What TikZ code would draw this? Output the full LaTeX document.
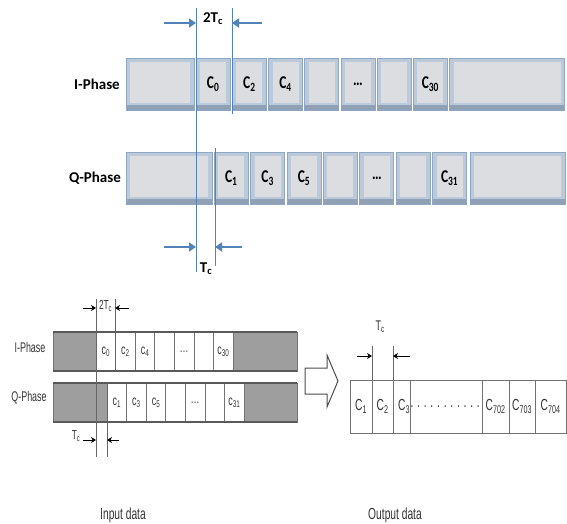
\documentclass[tikz,border=0pt]{standalone}
\usepackage{fontspec}
\setmainfont{Carlito}
\newfontfamily\condfont{Liberation Sans}
\usetikzlibrary{shapes,arrows.meta,positioning,calc}
\usepackage{xcolor}
\definecolor{btnface}{HTML}{DCDDE0}
\definecolor{btnbevel}{HTML}{BACADB}
\definecolor{btnline}{HTML}{8FA7C0}
\definecolor{btndark}{HTML}{90A1B5}
\definecolor{tickblue}{HTML}{5283B8}
\newcommand{\cond}[1]{\scalebox{0.64}[1]{#1}}

\begin{document}
\begin{tikzpicture}[x=1pt,y=-1pt,
btn/.style={
    draw=btnline,
    line width=0.7pt,
    fill=btnbevel,
    inner sep=0pt,
    minimum height=52pt,
    font=\bfseries\fontsize{18}{18}\selectfont,
    path picture={
      \fill[btndark] (path picture bounding box.south west) rectangle ([yshift=5pt]path picture bounding box.south east);
      \fill[btnface] ([shift={(4pt,-4pt)}]path picture bounding box.north west) rectangle ([shift={(-4pt,7pt)}]path picture bounding box.south east);
    }
},
cell/.style={draw=black!55, line width=0.5pt, fill=white, inner sep=0pt,
    minimum height=39pt, font=\condfont\fontsize{14}{14}\selectfont, text=black!80},
dark/.style={cell, fill=black!38},
outcell/.style={cell, minimum height=53pt, font=\condfont\fontsize{16}{16}\selectfont},
rim/.style={draw=black!65, line width=2.4pt},
tline/.style={draw=tickblue, line width=0.9pt},
tarrow/.style={draw=tickblue, line width=1.8pt, -{Triangle[length=7pt,width=9pt]}},
sline/.style={draw=black!60, line width=0.6pt},
sarrow/.style={draw=black, line width=0.9pt, -{Stealth[length=5pt,width=6pt]}},
head/.style={font=\bfseries\fontsize{15}{15}\selectfont},
lab/.style={font=\condfont\fontsize{14}{14}\selectfont, text=black!80}
]
\useasboundingbox (0,0) rectangle (567,524);

% ---- upper picture ----
\node[head] (iname) at (97,84) {I-Phase};
\node[head] (qname) at (95,178) {Q-Phase};

\node[btn, minimum width=68pt] (ihead) at (160,84) {};
\foreach \lab [count=\k from 0] in {C\textsubscript{0},C\textsubscript{2},C\textsubscript{4},{},{\ldots},{},C\textsubscript{30}}
  \node[btn, minimum width=34pt] (ic\k) at ({213.1+36.2*\k},84) {\scalebox{0.75}[1]{\lab}};
\node[btn, minimum width=115pt] (itail) at (507,84) {};

\node[btn, minimum width=86pt] (qhead) at (169,178) {};
\foreach \lab [count=\k from 0] in {C\textsubscript{1},C\textsubscript{3},C\textsubscript{5},{},{\ldots},{},C\textsubscript{31}}
  \node[btn, minimum width=34pt] (qc\k) at ({231.2+36.4*\k},178) {\scalebox{0.75}[1]{\lab}};
\node[btn, minimum width=95pt] (qtail) at (517.5,178) {};

% timing marks
\coordinate (m1t) at (196,8);   \coordinate (m1b) at (196,272);
\coordinate (m2t) at (232,8);   \coordinate (m2b) at (232,114);
\coordinate (m3t) at (215,148); \coordinate (m3b) at (215,266);
\draw[tline] (m1t) -- (m1b);
\draw[tline] (m2t) -- (m2b);
\draw[tline] (m3t) -- (m3b);

\coordinate (a1) at (164,23);
\coordinate (a2) at (262,23);
\draw[tarrow] (a1) -- (a1 -| m1t);
\draw[tarrow] (a2) -- (a2 -| m2t);
\node[head] (twotc) at (213,19) {2T\textsubscript{c}};

\coordinate (a3) at (164,247);
\coordinate (a4) at (242,247);
\draw[tarrow] (a3) -- (a3 -| m1t);
\draw[tarrow] (a4) -- (a4 -| m3t);
\node[head] (tc) at (206,269) {T\textsubscript{c}};

% ---- lower left: input data ----
\node[lab] (iname2) at (30,347) {\cond{I-Phase}};
\node[lab] (qname2) at (29,398) {\cond{Q-Phase}};

\node[dark, minimum width=43pt] (ileft) at (74.5,351.5) {};
\foreach \lab [count=\k from 0] in {c\textsubscript{0},c\textsubscript{2},c\textsubscript{4},{},{\ldots},{},c\textsubscript{30}}
  \node[cell, minimum width=19.57pt] (ib\k) at ({105.8+19.57*\k},351.5) {\cond{\lab}};
\node[dark, minimum width=64pt] (iright) at (265,351.5) {};
\draw[rim] (ileft.north west) -- (iright.north east);
\draw[rim] (ileft.south west) -- (iright.south east);

\node[dark, minimum width=54pt] (qleft) at (80,402.5) {};
\foreach \lab [count=\k from 0] in {c\textsubscript{1},c\textsubscript{3},c\textsubscript{5},{},{\ldots},{},c\textsubscript{31}}
  \node[cell, minimum width=19.57pt] (qb\k) at ({116.8+19.57*\k},402.5) {\cond{\lab}};
\node[dark, minimum width=53pt] (qright) at (270.5,402.5) {};
\draw[rim] (qleft.north west) -- (qright.north east);
\draw[rim] (qleft.south west) -- (qright.south east);

\coordinate (n1t) at (96,299);  \coordinate (n1b) at (96,457);
\coordinate (n2t) at (115,299); \coordinate (n2b) at (115,371);
\coordinate (n3t) at (107,383); \coordinate (n3b) at (107,457);
\draw[sline] (n1t) -- (n1b);
\draw[sline] (n2t) -- (n2b);
\draw[sline] (n3t) -- (n3b);

\coordinate (b1) at (83,308);
\coordinate (b2) at (129,308);
\draw[sarrow] (b1) -- (b1 -| n1t);
\draw[sarrow] (b2) -- (b2 -| n2t);
\node[lab, font=\condfont\fontsize{13}{13}\selectfont] (twotc2) at (105.5,306) {\cond{2T\textsubscript{c}}};

\coordinate (b3) at (83,440);
\coordinate (b4) at (119,440);
\draw[sarrow] (b3) -- (b3 -| n1t);
\draw[sarrow] (b4) -- (b4 -| n3t);
\node[lab, font=\condfont\fontsize{13}{13}\selectfont] (tc2) at (76,436) {\cond{T\textsubscript{c}}};

% ---- arrow between (hollow) ----
\draw[draw=black!70, line width=1pt, fill=white, line join=miter]
  (305,368) -- (327,368) -- (327,355) -- (338,381) -- (327,407) -- (327,394) -- (305,394) -- cycle;

% ---- lower right: output data ----
\foreach \xa/\xb/\lab [count=\k] in {350/372/C\textsubscript{1},372/393/C\textsubscript{2},393/415/C\textsubscript{3},415/482/{. . . . . . . . . . . .},482/509/C\textsubscript{702},509/535/C\textsubscript{703},535/566/C\textsubscript{704}}
  \node[outcell, minimum width={\xb-\xa}] (oc\k) at ({(\xa+\xb)/2},406.5) {\cond{\lab}};

\coordinate (o1t) at (372,346); \coordinate (o1b) at (372,380);
\coordinate (o2t) at (393,346); \coordinate (o2b) at (393,380);
\draw[sline] (o1t) -- (o1b);
\draw[sline] (o2t) -- (o2b);
\coordinate (c1) at (357,356);
\coordinate (c2) at (410,356);
\draw[sarrow] (c1) -- (c1 -| o1t);
\draw[sarrow] (c2) -- (c2 -| o2t);
\node[lab] (tc3) at (380,327) {\cond{T\textsubscript{c}}};

% captions
\node[lab, font=\condfont\fontsize{16}{16}\selectfont] (incap) at (123,515) {\cond{Input data}};
\node[lab, font=\condfont\fontsize{16}{16}\selectfont] (outcap) at (395,515) {\cond{Output data}};

\end{tikzpicture}
\end{document}
